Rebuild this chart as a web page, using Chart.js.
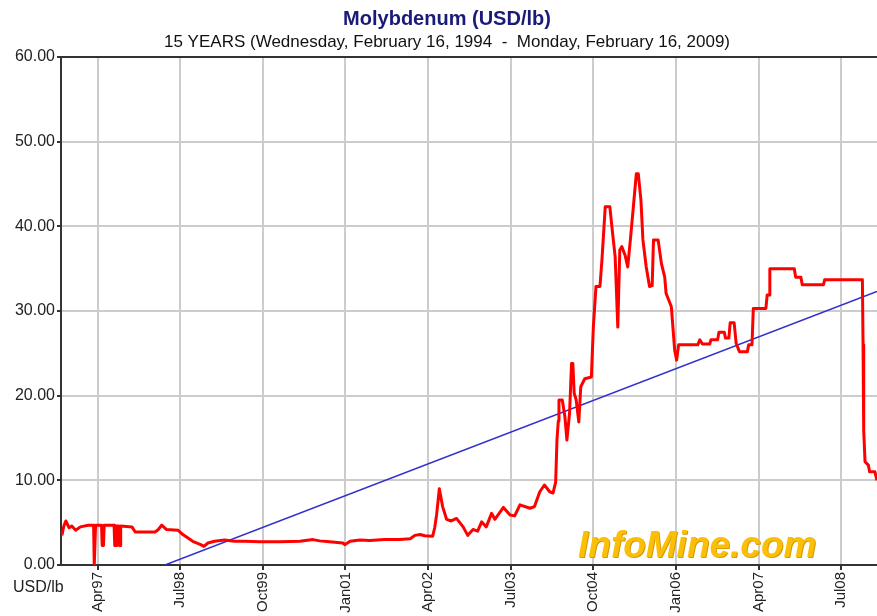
<!DOCTYPE html>
<html lang="en">
<head>
    <meta charset="UTF-8">
    <title>Molybdenum (USD/lb)</title>
    <style>
        html, body { margin: 0; padding: 0; background: #fff; }
        #wrap { width: 877px; height: 616px; }
    </style>
    <script src="https://cdn.jsdelivr.net/npm/chart.js"></script>
</head>
<body>
    <div id="wrap"><canvas id="moly" width="877" height="616"></canvas></div>

    <script>
        // price series (decimal year, USD/lb)
        const priceYears = [
            1996.71, 1996.74, 1996.77, 1996.82, 1996.86, 1996.92, 1996.99, 1997.11, 1997.19, 1997.20,
            1997.21, 1997.22, 1997.31, 1997.32, 1997.34, 1997.35, 1997.50, 1997.51, 1997.53, 1997.54,
            1997.57, 1997.58, 1997.59, 1997.60, 1997.77, 1997.82, 1998.12, 1998.17, 1998.22, 1998.29,
            1998.47, 1998.54, 1998.69, 1998.81, 1998.86, 1998.92, 1999.02, 1999.17, 1999.32, 1999.48,
            1999.70, 2000.01, 2000.31, 2000.51, 2000.61, 2000.76, 2000.96, 2000.99, 2001.07, 2001.22,
            2001.37, 2001.59, 2001.82, 2001.98, 2002.05, 2002.13, 2002.20, 2002.32, 2002.35, 2002.38,
            2002.42, 2002.47, 2002.53, 2002.60, 2002.68, 2002.78, 2002.85, 2002.93, 2003.00, 2003.06,
            2003.13, 2003.21, 2003.26, 2003.39, 2003.49, 2003.56, 2003.64, 2003.79, 2003.86, 2003.94,
            2004.01, 2004.09, 2004.14, 2004.18, 2004.20, 2004.22, 2004.23, 2004.28, 2004.32, 2004.35,
            2004.39, 2004.42, 2004.44, 2004.46, 2004.49, 2004.53, 2004.56, 2004.62, 2004.72, 2004.75,
            2004.79, 2004.85, 2004.88, 2004.93, 2005.00, 2005.03, 2005.08, 2005.12, 2005.15, 2005.18,
            2005.23, 2005.27, 2005.31, 2005.36, 2005.40, 2005.43, 2005.47, 2005.50, 2005.55, 2005.60,
            2005.64, 2005.66, 2005.73, 2005.78, 2005.83, 2005.85, 2005.93, 2005.98, 2006.01, 2006.04,
            2006.33, 2006.36, 2006.40, 2006.51, 2006.53, 2006.63, 2006.65, 2006.73, 2006.75, 2006.80,
            2006.82, 2006.88, 2006.91, 2006.96, 2007.08, 2007.10, 2007.15, 2007.17, 2007.36, 2007.38,
            2007.41, 2007.42, 2007.79, 2007.81, 2007.89, 2007.91, 2008.23, 2008.25, 2008.82, 2008.83,
            2008.84, 2008.86, 2008.91, 2008.93, 2009.01, 2009.04
        ];
        const priceValues = [
            3.5, 4.6, 5.2, 4.4, 4.6, 4.1, 4.5, 4.7, 4.7, 0.0,
            0.0, 4.7, 4.7, 2.3, 2.3, 4.7, 4.7, 2.3, 2.3, 4.6,
            4.6, 2.3, 2.3, 4.6, 4.5, 3.9, 3.9, 4.2, 4.7, 4.2,
            4.1, 3.6, 2.8, 2.4, 2.2, 2.6, 2.8, 2.95, 2.8, 2.8,
            2.75, 2.75, 2.8, 3.0, 2.85, 2.75, 2.6, 2.4, 2.8, 2.95,
            2.9, 3.0, 3.0, 3.1, 3.5, 3.6, 3.45, 3.4, 4.4, 6.0,
            9.0, 6.9, 5.4, 5.2, 5.5, 4.5, 3.5, 4.2, 4.0, 5.1,
            4.5, 6.1, 5.4, 6.8, 5.9, 5.8, 7.1, 6.7, 6.9, 8.65,
            9.45, 8.65, 8.5, 9.8, 14.8, 17.0, 19.5, 19.5, 17.5, 14.75,
            17.9, 23.8, 23.8, 20.3, 19.5, 16.9, 21.05, 22.0, 22.2, 28.1,
            32.9, 32.9, 36.0, 42.3, 42.3, 40.0, 36.4, 28.1, 37.2, 37.6,
            36.6, 35.2, 38.4, 42.7, 46.2, 46.2, 43.1, 38.4, 35.2, 32.9,
            33.0, 38.4, 38.4, 35.6, 34.0, 32.1, 30.5, 25.4, 24.2, 26.0,
            26.0, 26.6, 26.1, 26.1, 26.6, 26.6, 27.5, 27.5, 26.8, 26.8,
            28.6, 28.6, 26.2, 25.2, 25.2, 26.0, 26.0, 30.3, 30.3, 31.9,
            31.9, 35.0, 35.0, 34.0, 34.0, 33.1, 33.1, 33.7, 33.7, 26.0,
            15.9, 12.2, 11.8, 11.0, 11.0, 10.0
        ];

        // linear trend line
        const trendYears = [1998.27, 2009.04];
        const trendValues = [0, 32.3];

        // x axis ticks
        const tickYears = [1997.25, 1998.5, 1999.75, 2001, 2002.25, 2003.5, 2004.75, 2006, 2007.25, 2008.5];
        const tickLabels = ['Apr97', 'Jul98', 'Oct99', 'Jan01', 'Apr02', 'Jul03', 'Oct04', 'Jan06', 'Apr07', 'Jul08'];

        const FONT = '"Liberation Sans", Arial, sans-serif';

        // titles, unit label and watermark
        const decorations = {
            id: 'decorations',
            beforeDatasetsDraw(chart) {
                const c = chart.ctx;
                c.save();
                c.font = 'italic bold 37px ' + FONT;
                c.textBaseline = 'alphabetic';
                c.textAlign = 'left';
                c.fillStyle = '#d99a00';
                c.fillText('InfoMine.com', 579, 558);
                c.fillStyle = '#fbbf08';
                c.fillText('InfoMine.com', 578, 557);
                c.restore();
            },
            afterDraw(chart) {
                const c = chart.ctx;
                c.save();
                c.textAlign = 'center';
                c.textBaseline = 'middle';
                c.fillStyle = '#1a1a78';
                c.font = 'bold 20px ' + FONT;
                c.fillText('Molybdenum (USD/lb)', 447, 19);
                c.fillStyle = '#111';
                c.font = '17px ' + FONT;
                c.fillText('15 YEARS (Wednesday, February 16, 1994  -  Monday, February 16, 2009)', 447, 42);
                c.textAlign = 'left';
                c.font = '16px ' + FONT;
                c.fillStyle = '#222';
                c.fillText('USD/lb', 13, 588);
                c.restore();
            }
        };

        const ctx = document.getElementById('moly').getContext('2d');
        const chart = new Chart(ctx, {
            type: 'line',
            data: {
                datasets: [
                    {
                        label: 'Molybdenum',
                        data: priceYears.map((x, i) => ({ x: x, y: priceValues[i] })),
                        borderColor: '#ff0000',
                        borderWidth: 3,
                        borderJoinStyle: 'round',
                        pointRadius: 0,
                        tension: 0,
                    },
                    {
                        label: 'Trend',
                        data: trendYears.map((x, i) => ({ x: x, y: trendValues[i] })),
                        borderColor: '#3030cc',
                        borderWidth: 1.5,
                        pointRadius: 0,
                        tension: 0,
                    },
                ],
            },
            options: {
                responsive: false,
                animation: false,
                devicePixelRatio: 1,
                layout: { padding: { top: 57, left: 0, right: 0, bottom: 0 } },
                plugins: {
                    legend: { display: false },
                    tooltip: { enabled: false },
                },
                scales: {
                    x: {
                        type: 'linear',
                        min: 1996.697,
                        max: 2009.041,
                        afterBuildTicks: (scale) => {
                            scale.ticks = tickYears.map(v => ({ value: v }));
                        },
                        afterFit: (scale) => {
                            scale.height = 51;
                            scale.paddingLeft = 0;
                            scale.paddingRight = 0;
                        },
                        ticks: {
                            autoSkip: false,
                            minRotation: 90,
                            maxRotation: 90,
                            padding: 2,
                            color: '#222',
                            font: { family: FONT, size: 15 },
                            callback: (value, index) => tickLabels[index],
                        },
                        grid: { color: '#cccccc', lineWidth: 2, tickLength: 5, tickColor: '#333' },
                        border: { color: '#333', width: 2 },
                    },
                    y: {
                        min: 0,
                        max: 60,
                        afterFit: (scale) => {
                            scale.width = 61;
                            scale.paddingTop = 0;
                            scale.paddingBottom = 0;
                        },
                        ticks: {
                            stepSize: 10,
                            padding: 2,
                            color: '#222',
                            font: { family: FONT, size: 16 },
                            callback: (value) => value.toFixed(2),
                        },
                        grid: {
                            color: (c) => (c.tick && c.tick.value === 60 ? '#333' : '#cccccc'),
                            lineWidth: 2,
                            tickLength: 4,
                            tickColor: '#333',
                        },
                        border: { color: '#333', width: 2 },
                    },
                },
            },
            plugins: [decorations],
        });
    </script>
</body>
</html>
